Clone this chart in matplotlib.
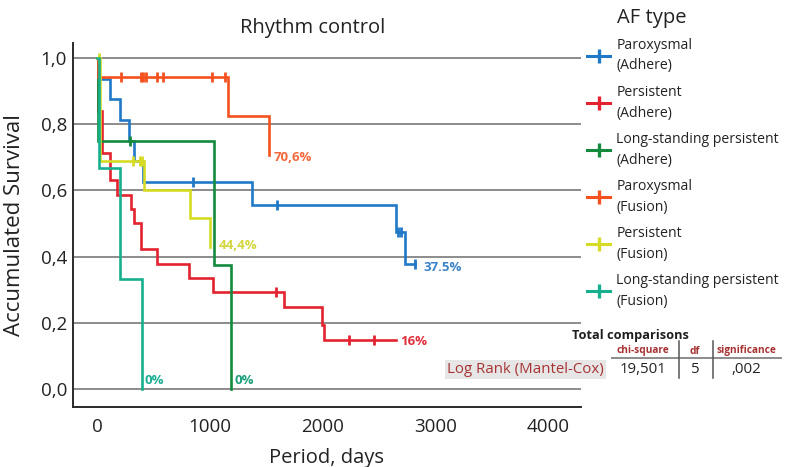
import numpy as np
import matplotlib
matplotlib.use("Agg")
import matplotlib.pyplot as plt
from matplotlib.lines import Line2D
from matplotlib import font_manager

plt.rcParams['font.family'] = ['Open Sans', 'DejaVu Sans']

names = {f.name for f in font_manager.fontManager.ttflist}
NARROW = ['Liberation Sans Narrow', 'Open Sans', 'DejaVu Sans'] if 'Liberation Sans Narrow' in names else ['Open Sans', 'DejaVu Sans']
HAS_NARROW = 'Liberation Sans Narrow' in names

# ---------------- data ----------------
series_names = ["Paroxysmal\n(Adhere)", "Persistent\n(Adhere)", "Long-standing persistent\n(Adhere)",
                "Paroxysmal\n(Fusion)", "Persistent\n(Fusion)", "Long-standing persistent\n(Fusion)"]
colors = ["#2079c7", "#e3232f", "#138a3e", "#f4511f", "#d6dc25", "#16b08e"]

parox_adh_t = [0, 9, 107, 201, 279, 320, 402, 1368, 2652, 2727]
parox_adh_s = [1.0, 0.9375, 0.875, 0.8125, 0.75, 0.6875, 0.625, 0.556, 0.475, 0.378]
parox_adh_end = 2818
parox_adh_cens = [847, 1598, 2672, 2692, 2818]

pers_adh_t = [0, 5, 42, 107, 172, 299, 323, 388, 530, 810, 1022, 1656, 1990, 2012]
pers_adh_s = [1.0, 0.84, 0.714, 0.631, 0.586, 0.544, 0.502, 0.422, 0.377, 0.334, 0.293, 0.247, 0.193, 0.147]
pers_adh_end = 2655
pers_adh_cens = [12, 1582, 2234, 2453]

long_adh_t = [0, 8, 1037, 1186]
long_adh_s = [1.0, 0.75, 0.375, 0.0]
long_adh_end = 1186
long_adh_cens = [293]

parox_fus_t = [0, 6, 1155, 1522]
parox_fus_s = [1.0, 0.941, 0.824, 0.706]
parox_fus_end = 1522
parox_fus_cens = [210, 385, 405, 428, 525, 585, 1019, 1135]

pers_fus_t = [0, 20, 411, 826, 1003]
pers_fus_s = [1.0, 0.69, 0.60, 0.516, 0.43]
pers_fus_end = 1003
pers_fus_cens = [12, 318, 375, 395]

long_fus_t = [0, 10, 200, 391]
long_fus_s = [1.0, 0.667, 0.333, 0.0]
long_fus_end = 391
long_fus_cens = []

end_labels = ["37.5%", "16%", "0%", "70,6%", "44,4%", "0%"]
end_label_pos = [(2895, 0.366), (2690, 0.142), (1215, 0.026), (1565, 0.70), (1075, 0.434), (420, 0.026)]
end_label_colors = ["#3a83c8", "#e0303c", "#1c9f7c", "#f2683a", "#d2d63a", "#1aae94"]

yticks = [0.0, 0.2, 0.4, 0.6, 0.8, 1.0]
ytick_labels = ["0,0", "0,2", "0,4", "0,6", "0,8", "1,0"]
xticks = [0, 1000, 2000, 3000, 4000]
xtick_labels = ["0", "1000", "2000", "3000", "4000"]

table_cols = ["chi-square", "df", "significance"]
table_row = "Log Rank (Mantel-Cox)"
table_vals = ["19,501", "5", ",002"]

series = [
    (parox_adh_t, parox_adh_s, parox_adh_end, parox_adh_cens),
    (pers_adh_t, pers_adh_s, pers_adh_end, pers_adh_cens),
    (long_adh_t, long_adh_s, long_adh_end, long_adh_cens),
    (parox_fus_t, parox_fus_s, parox_fus_end, parox_fus_cens),
    (pers_fus_t, pers_fus_s, pers_fus_end, pers_fus_cens),
    (long_fus_t, long_fus_s, long_fus_end, long_fus_cens),
]

# ---------------- figure ----------------
W, H = 793, 467
fig = plt.figure(figsize=(W / 100, H / 100), dpi=100)
ax = fig.add_axes([72.7 / W, 1 - 406.7 / H, (581 - 72.7) / W, (406.7 - 43) / H])
ax.set_xlim(-220, 4294)
ax.set_ylim(-0.0535, 1.045)

for sp in ["top", "right"]:
    ax.spines[sp].set_visible(False)
for sp in ["left", "bottom"]:
    ax.spines[sp].set_color("#2b2b2b")
    ax.spines[sp].set_linewidth(1.4)

ax.set_yticks(yticks)
ax.set_yticklabels(ytick_labels)
ax.set_xticks(xticks)
ax.set_xticklabels(xtick_labels)
ax.tick_params(axis="both", length=0, labelsize=13.5, colors="#222222")
ax.tick_params(axis="y", pad=4)
ax.tick_params(axis="x", pad=8)
ax.yaxis.grid(True, color="#8c8c8c", linewidth=1.4)
ax.set_axisbelow(True)

for (t, s, end, cens), c in zip(series, colors):
    xs = list(t) + [end]
    ys = list(s) + [s[-1]]
    ax.plot(xs, ys, drawstyle="steps-post", color=c, lw=1.9, solid_joinstyle="miter")
    if cens:
        idx = np.searchsorted(np.array(t), np.array(cens), side="right") - 1
        lv = np.array(s)[idx]
        ax.plot(cens, lv, linestyle="none", marker="|", markersize=7, mew=2, color=c)

for txt, (px, py), c in zip(end_labels, end_label_pos, end_label_colors):
    ax.text(px, py, txt, color=c, fontsize=9.5, fontweight="bold", ha="left", va="center")

ax.set_ylabel("Accumulated Survival", fontsize=16, color="#222222")
ax.yaxis.set_label_coords(-(72.7 - 25) / (581 - 72.7), 0.5)
ax.set_xlabel("Period, days", fontsize=14.5, color="#222222", labelpad=9)

fig.text(313 / W, 1 - 28 / H, "Rhythm control", ha="center", va="center", fontsize=14.5, color="#222222")

# legend
handles = [Line2D([0], [0], color=c, lw=2.2, marker="|", markersize=10, mew=2.4) for c in colors]
leg = ax.legend(handles, series_names, loc="upper left", bbox_to_anchor=(587 / W, 1 - 38 / H),
                bbox_transform=fig.transFigure, frameon=False, fontsize=10.1,
                handlelength=1.65, handletextpad=0.45, labelspacing=0.82,
                borderpad=0, borderaxespad=0, numpoints=1)
for tx in leg.get_texts():
    tx.set_linespacing(1.5)
    tx.set_color("#222222")
fig.text(617 / W, 1 - 18 / H, "AF type", ha="left", va="center", fontsize=14.5, color="#222222")

# table
tscale = 1.0 if HAS_NARROW else 0.8
fig.text(630 / W, 1 - 335 / H, "Total comparisons", ha="center", va="center", fontsize=11.5 * tscale,
         fontweight="bold", family=NARROW, color="#1e1e1e")
col_x = [643, 695, 746]
for cx, name in zip(col_x, table_cols):
    fig.text(cx / W, 1 - 351 / H, name, ha="center", va="center", fontsize=8.4 * tscale * 1.08, fontweight="bold",
             family=NARROW, color="#a83232")
for cx, v in zip(col_x, table_vals):
    fig.text(cx / W, 1 - 369.5 / H, v, ha="center", va="center", fontsize=10.8, color="#222222")
fig.text(447 / W, 1 - 369.5 / H, table_row, ha="left", va="center", fontsize=10.8, color="#a83232",
         bbox=dict(boxstyle="square,pad=0.12", fc="#e6e6e6", ec="none"))
fig.add_artist(Line2D([612 / W, 781 / W], [1 - 358.3 / H, 1 - 358.3 / H], color="#8c8c8c", lw=1.4))
for sx in [679.3, 713.3]:
    fig.add_artist(Line2D([sx / W, sx / W], [1 - 341 / H, 1 - 378 / H], color="#555555", lw=1.1))

fig.savefig("out.png", dpi=100)
